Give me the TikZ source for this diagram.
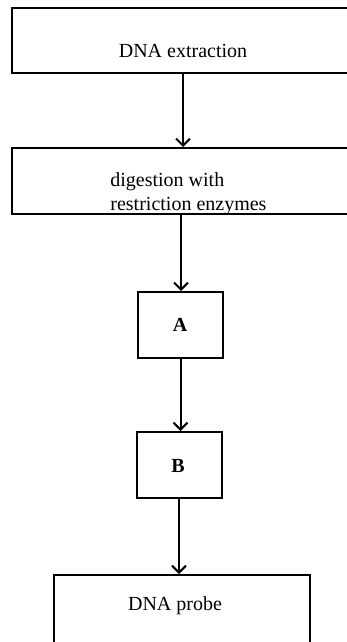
\documentclass[tikz,border=0pt]{standalone}
\usepackage{fontspec}
\setmainfont{Liberation Serif}
\usetikzlibrary{arrows.meta}
\begin{document}
\begin{tikzpicture}[x=0.5pt,y=-0.5pt,
  box/.style={draw, line width=1pt, rectangle, inner sep=0pt},
  lbl/.style={font=\fontsize{10}{12}\selectfont, inner sep=0pt},
  flow/.style={line width=1pt, -{Straight Barb[length=3.5pt,width=7pt,line width=1pt]}}]
\fill[white] (0,0) rectangle (347,642);
\clip (0,0) rectangle (347,642);
% boxes
\node[box, minimum width=171pt, minimum height=32.5pt] (b1) at (183,41) {};
\node[box, minimum width=169pt, minimum height=33pt] (b2) at (181,181) {};
\node[box, minimum width=42.5pt, minimum height=33pt] (ba) at (180.5,325) {};
\node[box, minimum width=42.5pt, minimum height=33pt] (bb) at (179,465) {};
\node[box, minimum width=128pt, minimum height=37pt] (bp) at (182,612) {};
% labels
\node[lbl] (t1) at (183,51) {DNA extraction};
\node[lbl, align=left, anchor=west] (t2) at (110,194) {digestion with\\ restriction enzymes};
\node[lbl, font=\fontsize{10}{12}\selectfont\bfseries] (ta) at (180,325) {A};
\node[lbl, font=\fontsize{10}{12}\selectfont\bfseries] (tb) at (178,466) {B};
\node[lbl] (tp) at (175,606) {DNA probe};
% connectors
\draw[flow] (b1.south) -- (b1.south |- b2.north);
\draw[flow] (b2.south) -- (b2.south |- ba.north);
\draw[flow] (ba.south) -- (ba.south |- bb.north);
\draw[flow] (bb.south) -- (bb.south |- bp.north);
\end{tikzpicture}
\end{document}
